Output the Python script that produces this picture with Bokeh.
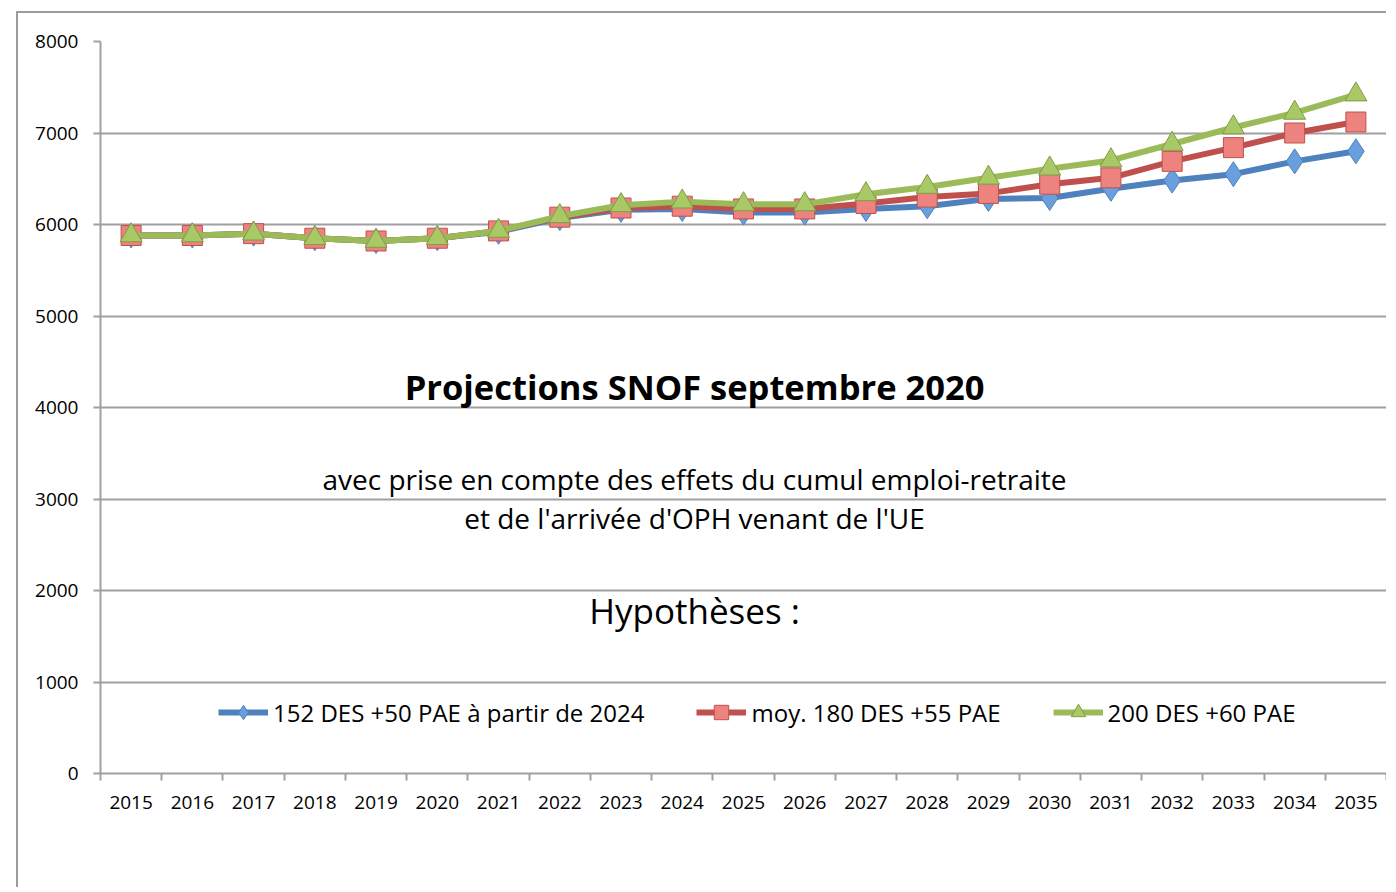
from bokeh.plotting import figure
from bokeh.models import (Range1d, FixedTicker, Legend, LegendItem, Label)
from bokeh.embed import file_html
from bokeh.resources import INLINE

years = [str(y) for y in range(2015, 2036)]
s152 = [5880, 5880, 5900, 5850, 5820, 5850, 5920, 6070, 6160, 6170, 6130, 6130,
        6170, 6200, 6280, 6290, 6390, 6480, 6550, 6690, 6800]
s180 = [5880, 5880, 5900, 5850, 5820, 5850, 5930, 6080, 6180, 6200, 6170, 6170,
        6230, 6300, 6340, 6440, 6510, 6690, 6840, 7000, 7120]
s200 = [5880, 5880, 5900, 5850, 5820, 5850, 5930, 6090, 6210, 6250, 6220, 6220,
        6330, 6410, 6510, 6610, 6700, 6880, 7060, 7220, 7420]
names = ["152 DES +50 PAE à partir de 2024", "moy. 180 DES +55 PAE", "200 DES +60 PAE"]
y_ticks = [0, 1000, 2000, 3000, 4000, 5000, 6000, 7000, 8000]

FONT = "Open Sans"
xs = [i + 0.5 for i in range(len(years))]

p = figure(width=1370, height=876, output_backend="svg", toolbar_location=None,
           x_range=Range1d(0, len(years)), y_range=Range1d(0, 8000),
           min_border_left=82, min_border_right=2, min_border_top=28, min_border_bottom=116)
p.styles = {"border-left": "2px solid #9c9c9c", "border-top": "2px solid #9c9c9c",
            "margin-left": "16px", "margin-top": "11px"}
p.outline_line_color = None
p.xgrid.visible = False
p.ygrid.grid_line_color = "#a0a0a0"
p.ygrid.grid_line_width = 2
p.ygrid.ticker = FixedTicker(ticks=y_ticks)

p.yaxis.ticker = FixedTicker(ticks=y_ticks)
p.yaxis.axis_line_color = "#a0a0a0"
p.yaxis.axis_line_width = 2
p.yaxis.major_tick_line_color = "#a0a0a0"
p.yaxis.major_tick_line_width = 2
p.yaxis.major_tick_out = 7
p.yaxis.major_tick_in = 0
p.yaxis.minor_tick_line_color = None
p.yaxis.major_label_standoff = 15
p.yaxis.major_label_text_font = FONT
p.yaxis.major_label_text_font_size = "19px"
p.yaxis.major_label_text_color = "#000000"

p.xaxis.ticker = FixedTicker(ticks=xs, minor_ticks=list(range(len(years) + 1)))
p.xaxis.major_label_overrides = {x: y for x, y in zip(xs, years)}
p.xaxis.axis_line_color = "#a0a0a0"
p.xaxis.axis_line_width = 2
p.xaxis.major_tick_line_color = None
p.xaxis.major_tick_out = 0
p.xaxis.major_tick_in = 0
p.xaxis.minor_tick_line_color = "#a0a0a0"
p.xaxis.minor_tick_line_width = 2
p.xaxis.minor_tick_out = 7
p.xaxis.minor_tick_in = 0
p.xaxis.major_label_standoff = 15
p.xaxis.major_label_text_font = FONT
p.xaxis.major_label_text_font_size = "19px"
p.xaxis.major_label_text_color = "#000000"

styles = [
    dict(line="#4f81bd", marker="diamond", fill="#6a9fde", mline="#4f81bd", size=25),
    dict(line="#c0504d", marker="square", fill="#ec837f", mline="#c0504d", size=20),
    dict(line="#9bbb59", marker="triangle", fill="#a8c965", mline="#7f9c45", size=22),
]
items = []
for vals, name, st in zip([s152, s180, s200], names, styles):
    ln = p.line(xs, vals, line_color=st["line"], line_width=6)
    sc = p.scatter(xs, vals, marker=st["marker"], size=st["size"], fill_color=st["fill"],
                   line_color=st["mline"], line_width=1)
    items.append(LegendItem(label=name, renderers=[ln, sc]))

legend = Legend(items=items, orientation="horizontal", location=(118, 43),
                background_fill_alpha=0, border_line_color=None, padding=0, margin=0,
                spacing=52, glyph_width=50, glyph_height=36, label_height=36,
                label_standoff=5, label_text_font=FONT, label_text_font_size="24px",
                label_text_color="#000000")
p.add_layout(legend)

cx = 9.7
p.add_layout(Label(x=cx, y=4230, text="Projections SNOF septembre 2020", text_align="center",
                   text_baseline="middle", text_font=FONT, text_font_style="bold",
                   text_font_size="34.5px", text_color="#000000"))
p.add_layout(Label(x=cx, y=3220, text="avec prise en compte des effets du cumul emploi-retraite",
                   text_align="center", text_baseline="middle", text_font=FONT,
                   text_font_size="28px", text_color="#000000"))
p.add_layout(Label(x=cx, y=2790, text="et de l'arrivée d'OPH venant de l'UE",
                   text_align="center", text_baseline="middle", text_font=FONT,
                   text_font_size="28px", text_color="#000000"))
p.add_layout(Label(x=cx, y=1780, text="Hypothèses :", text_align="center",
                   text_baseline="middle", text_font=FONT, text_font_size="35px",
                   text_color="#000000"))

open("out.html", "w").write(file_html(p, INLINE))
